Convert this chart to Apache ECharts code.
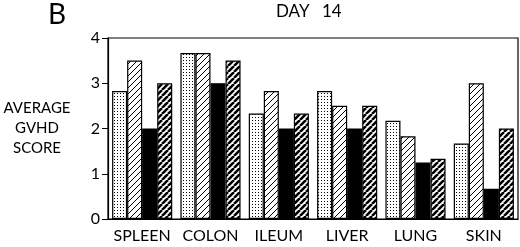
<!DOCTYPE html>
<html>
<head>
<meta charset="utf-8">
<script src="https://cdn.jsdelivr.net/npm/echarts@6/dist/echarts.min.js"></script>
<style>
  html, body { margin: 0; padding: 0; background: #fff; }
  #chart { width: 520px; height: 247px; }
</style>
</head>
<body>
<div id="chart"></div>
<script>
// organs on the x axis
const organs = ['SPLEEN', 'COLON', 'ILEUM', 'LIVER', 'LUNG', 'SKIN'];
// four groups, in bar order: dotted, thin hatch, solid, thick hatch
const dotted = [2.83, 3.67, 2.33, 2.83, 2.17, 1.67];
const thinHatch = [3.5, 3.67, 2.83, 2.5, 1.83, 3.0];
const solid = [2.0, 3.0, 2.0, 2.0, 1.25, 0.67];
const thickHatch = [3.0, 3.5, 2.33, 2.5, 1.33, 2.0];
const yTicks = [0, 1, 2, 3, 4];

function makeDots() {
  const c = document.createElement('canvas');
  c.width = 3; c.height = 3;
  const g = c.getContext('2d');
  g.fillStyle = '#fff'; g.fillRect(0, 0, 3, 3);
  g.fillStyle = '#000'; g.fillRect(0, 0, 1, 1);
  return c;
}

function makeHatch(size, lw) {
  const c = document.createElement('canvas');
  c.width = size; c.height = size;
  const g = c.getContext('2d');
  g.fillStyle = '#fff'; g.fillRect(0, 0, size, size);
  g.strokeStyle = '#000';
  g.lineWidth = lw;
  g.beginPath();
  for (let k = -1; k <= 1; k++) {
    g.moveTo(k * size, size);
    g.lineTo(k * size + size, 0);
  }
  g.stroke();
  return c;
}

const chart = echarts.init(document.getElementById('chart'), null, { renderer: 'canvas' });

const border = { borderColor: '#000', borderWidth: 1.2 };

function bar(name, data, fill) {
  return {
    name: name,
    type: 'bar',
    data: data,
    barGap: '0%',
    barCategoryGap: '12%',
    itemStyle: Object.assign({ color: fill }, border)
  };
}

const font = 'Lato, "Open Sans", "DejaVu Sans", sans-serif';

function label(text, x, y, size, align) {
  return {
    type: 'text', x: x, y: y,
    style: { text: text, fill: '#000', fontSize: size, fontFamily: font, align: align || 'left', verticalAlign: 'top' }
  };
}

chart.setOption({
  animation: false,
  backgroundColor: '#fff',
  textStyle: { fontFamily: font },
  graphic: [
    label('B', 48, 1, 28),
    label('DAY', 276, 3, 17),
    label('14', 322, 3, 17),
    label('AVERAGE', 37, 101, 15, 'center'),
    label('GVHD', 37, 121, 15, 'center'),
    label('SCORE', 37, 141, 15, 'center')
  ],
  grid: { left: 108, right: 2, top: 38, bottom: 28, show: true, borderColor: '#000', borderWidth: 1.2, containLabel: false },
  xAxis: {
    type: 'category',
    data: organs,
    axisLine: { lineStyle: { color: '#000', width: 1.2 } },
    axisTick: { alignWithLabel: true, length: 5, lineStyle: { color: '#000' } },
    axisLabel: { interval: 0, color: '#000', fontSize: 16, margin: 9, fontFamily: font }
  },
  yAxis: {
    type: 'value',
    min: yTicks[0],
    max: yTicks[yTicks.length - 1],
    interval: 1,
    splitLine: { show: false },
    axisLine: { show: true, lineStyle: { color: '#000', width: 1.2 } },
    axisTick: { show: true, length: 6, lineStyle: { color: '#000' } },
    axisLabel: { color: '#000', fontSize: 16, margin: 8, fontFamily: font }
  },
  series: [
    bar('dotted', dotted, { image: makeDots(), repeat: 'repeat' }),
    bar('thin', thinHatch, { image: makeHatch(6, 1), repeat: 'repeat' }),
    bar('solid', solid, '#000'),
    bar('thick', thickHatch, { image: makeHatch(6, 2.6), repeat: 'repeat' })
  ]
});
</script>
</body>
</html>
